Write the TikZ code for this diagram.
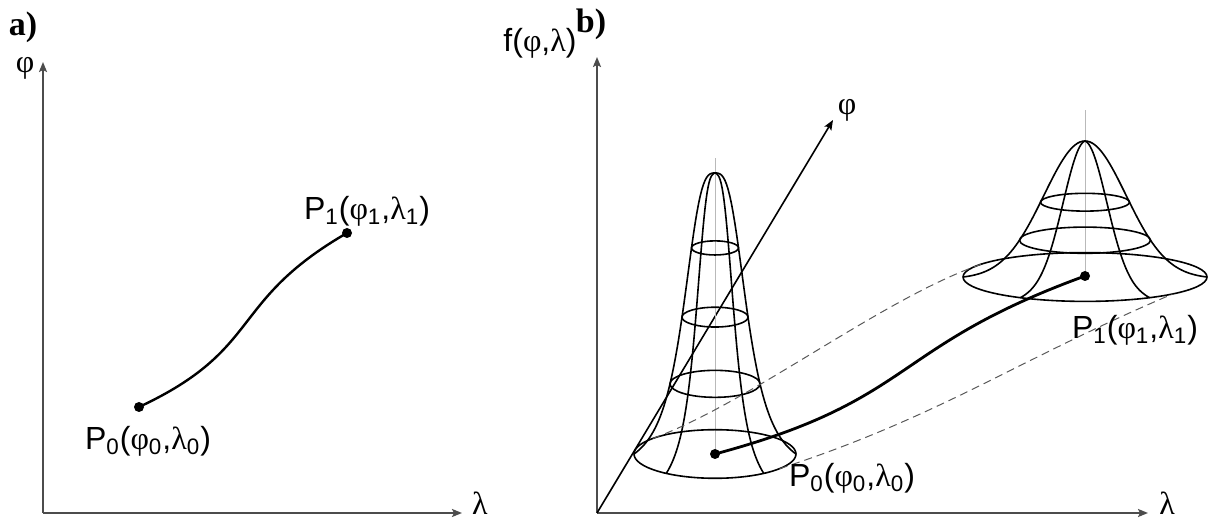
\documentclass[tikz,border=0pt]{standalone}
\usepackage{fontspec}
\setmainfont{Liberation Sans}
\newfontfamily\grfont{Liberation Serif}
\usetikzlibrary{calc, arrows.meta}
\newcommand{\phis}{{\grfont φ}}
\newcommand{\lams}{{\grfont λ}}
\NewDocumentCommand{\peak}{%
    m   % centre of the base
    m   % profile function h(r)
    m   % base radius
    m   % flattening of the rings
    m   % angle of the front meridians
    m   % radii of the rings
    m   % length of the vertical line
    }{%
    \begin{scope}[shift={(#1)}]
        \draw[gray!55, line width=0.3pt] (0,0) -- (0,#7);
        \draw[wire] (0,0) ellipse [x radius=#3, y radius={#4*#3}];
        \foreach \rad in {#6}
            \draw[wire] (0,{#2(\rad)}) ellipse [x radius=\rad, y radius={#4*\rad}];
        \foreach \ang in {0, 180, -#5, #5-180}
            \draw[wire] plot[variable=\s, domain=0:#3, samples=50]
                ({\s*cos(\ang)}, {#2(\s) + #4*\s*sin(\ang)});
    \end{scope}
}

\begin{document}
\begin{tikzpicture}[x=0.5pt, y=0.5pt,
    declare function={
        hL(\x) = 301.8*(1/(1+(\x/34)^3) - 0.0689);
        hR(\x) = 136*(exp(-(\x/58)^2) - 0.012)/0.988;
    },
    wire/.style={line width=0.8pt},
    axis/.style={draw=black!70, line width=1.2pt, -{Stealth[length=5pt, width=4pt, inset=1pt]}},
    lab/.style={font=\fontsize{16}{19}\selectfont, inner sep=0pt},
    dot/.style={fill=black},
    corridor/.style={draw=black!65, line width=0.5pt, dash pattern=on 4pt off 2.5pt}]
    \useasboundingbox (0,0) rectangle (1209,524);

    % panel a
    \coordinate (Oa) at (43,11);
    \coordinate (Pa0) at (139,117);
    \coordinate (Pa1) at (347,291);
    \draw[axis] (Oa) -- (43,462) coordinate (Ya);
    \draw[axis] (Oa) -- (462,11) coordinate (Xa);
    \draw[line width=1.2pt] (Pa0) to[out=25, in=210, looseness=1.3] (Pa1);
    \fill[dot] (Pa0) circle (5) (Pa1) circle (5);
    \node[font=\grfont\bfseries\fontsize{17}{20}\selectfont] (ta) at (23,497) {a)};
    \node[lab] (phia) at (25,456) {\phis};
    \node[lab, anchor=south] (lama) at (480,9) {\lams};
    \node[lab] (la0) at (148,83) {P\textsubscript{0}(\phis\textsubscript{0},\lams\textsubscript{0})};
    \node[lab] (la1) at (367,313) {P\textsubscript{1}(\phis\textsubscript{1},\lams\textsubscript{1})};

    % panel b
    \coordinate (Ob) at (597,11);
    \coordinate (Lc) at (715,70);
    \coordinate (Rc) at (1085,247);
    \coordinate (Pb0) at (715,70);
    \coordinate (Pb1) at (1085,248);
    \draw[axis] (Ob) -- (597,467) coordinate (Fb);
    \draw[axis] (Ob) -- (1148,11) coordinate (Xb);
    \draw[line width=0.8pt, -{Stealth[length=5pt, width=4pt, inset=1pt]}] (Ob) -- (833,404) coordinate (Yb);

    \peak{Lc}{hL}{81}{0.3}{53}{23.5, 33, 45}{296}
    \peak{Rc}{hR}{122}{0.2}{58}{44.5, 65.5}{167}

    \coordinate (U0) at ($(Lc)+(140:81 and 24.3)$);
    \coordinate (U1) at ($(Rc)+(145:122 and 24.4)$);
    \coordinate (D0) at ($(Lc)+(-37:81 and 24.3)$);
    \coordinate (D1) at ($(Rc)+(-44:122 and 24.4)$);
    \draw[corridor] (U0) to[out=20, in=198, looseness=0.7] (U1);
    \draw[corridor] (D0) to[out=18, in=203] (D1);
    \draw[line width=1.4pt] (Pb0) to[out=15, in=200, looseness=1.3] (Pb1);
    \fill[dot] (Pb0) circle (5) (Pb1) circle (5);

    \node[font=\grfont\bfseries\fontsize{17}{20}\selectfont] (tb) at (591,500) {b)};
    \node[lab] (fb) at (540,481) {f(\phis,\lams)};
    \node[lab] (phib) at (847,414) {\phis};
    \node[lab, anchor=south] (lamb) at (1167,9) {\lams};
    \node[lab] (lb0) at (852,46) {P\textsubscript{0}(\phis\textsubscript{0},\lams\textsubscript{0})};
    \node[lab] (lb1) at (1135,194) {P\textsubscript{1}(\phis\textsubscript{1},\lams\textsubscript{1})};
\end{tikzpicture}
\end{document}
